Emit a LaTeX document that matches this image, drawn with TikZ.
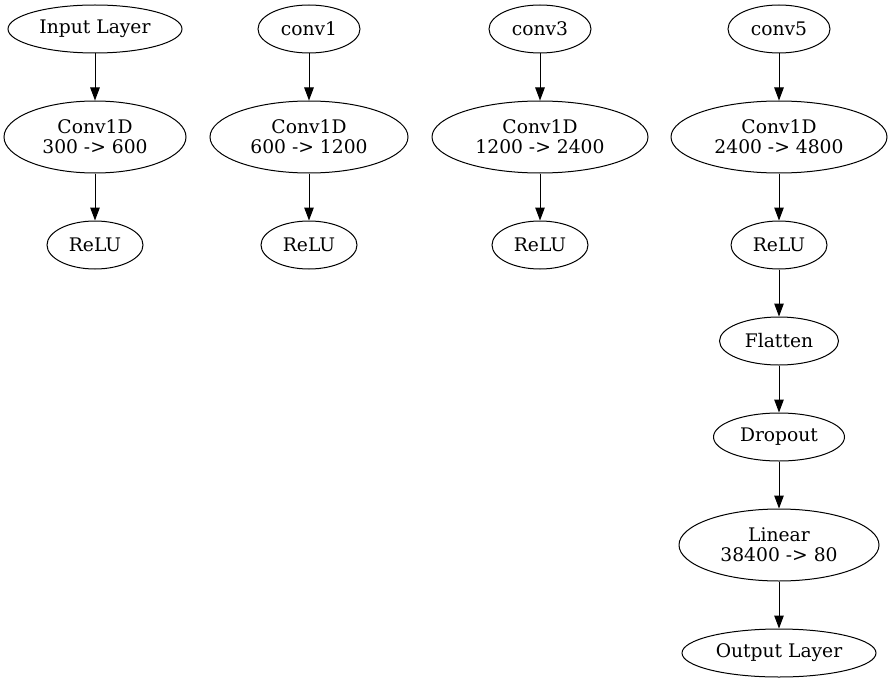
\documentclass[tikz,border=0pt]{standalone}
\usepackage{fontspec}
\setmainfont{DejaVu Serif}
\usetikzlibrary{shapes.geometric,arrows.meta}
\begin{document}
\begin{tikzpicture}[x=1pt,y=-1pt,
  layer/.style={ellipse, draw, line width=1pt, inner sep=0pt, align=center,
                font=\fontsize{18.7}{20}\selectfont},
  single/.style={layer, minimum height=48pt},
  double/.style={layer, minimum height=72pt},
  flow/.style={line width=1pt, -{Triangle[length=13pt,width=9.5pt]}}]
\useasboundingbox (0,0) rectangle (891,682);

% first block
\node[single, minimum width=174pt] (in)    at (95,29)  {Input Layer};
\node[double, minimum width=182pt] (c1)    at (95,137) {Conv1D\\300 -> 600};
\node[single, minimum width=96pt]  (r1)    at (95,245) {ReLU};

% second block
\node[single, minimum width=102pt] (k1)    at (309,29)  {conv1};
\node[double, minimum width=198pt] (c2)    at (309,137) {Conv1D\\600 -> 1200};
\node[single, minimum width=96pt]  (r2)    at (309,245) {ReLU};

% third block
\node[single, minimum width=102pt] (k3)    at (540,29)  {conv3};
\node[double, minimum width=216pt] (c3)    at (540,137) {Conv1D\\1200 -> 2400};
\node[single, minimum width=96pt]  (r3)    at (540,245) {ReLU};

% fourth block and classifier head
\node[single, minimum width=102pt] (k5)    at (779,29)  {conv5};
\node[double, minimum width=216pt] (c4)    at (779,137) {Conv1D\\2400 -> 4800};
\node[single, minimum width=96pt]  (r4)    at (779,245) {ReLU};
\node[single, minimum width=119pt] (flat)  at (779,341) {Flatten};
\node[single, minimum width=131pt] (drop)  at (779,437) {Dropout};
\node[double, minimum width=200pt] (lin)   at (779,545) {Linear\\38400 -> 80};
\node[single, minimum width=194pt] (out)   at (779,653) {Output Layer};

\draw[flow] (in) -- (c1);
\draw[flow] (c1) -- (r1);
\draw[flow] (k1) -- (c2);
\draw[flow] (c2) -- (r2);
\draw[flow] (k3) -- (c3);
\draw[flow] (c3) -- (r3);
\draw[flow] (k5) -- (c4);
\draw[flow] (c4) -- (r4);
\draw[flow] (r4) -- (flat);
\draw[flow] (flat) -- (drop);
\draw[flow] (drop) -- (lin);
\draw[flow] (lin) -- (out);
\end{tikzpicture}
\end{document}
